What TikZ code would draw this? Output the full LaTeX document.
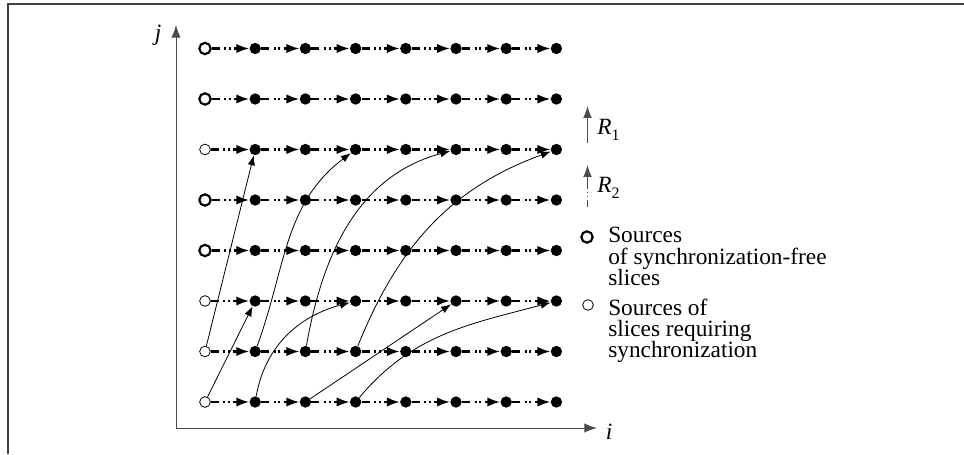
\documentclass[tikz,border=0pt]{standalone}
\usepackage{fontspec}
\setmainfont{Liberation Serif}
\usetikzlibrary{arrows.meta}
\begin{document}
\begin{tikzpicture}[x=0.75pt,y=0.75pt,
  dotnode/.style={circle,fill=black,inner sep=0pt,minimum size=8.5pt},
  srcthick/.style={circle,draw=black,fill=white,line width=1.6pt,inner sep=0pt,minimum size=8.5pt},
  srcthin/.style={circle,draw=black,fill=white,line width=0.6pt,inner sep=0pt,minimum size=8pt},
  hconn/.style={line width=1.7pt,dash pattern=on 6pt off 3.5pt on 1.5pt off 2pt on 1.5pt off 2.5pt on 30pt off 10pt,-{Latex[length=9.75pt,width=7pt]}},
  dep/.style={line width=0.6pt,-{Latex[length=7.5pt,width=5.5pt]}},
  axisline/.style={line width=0.75pt,draw=black!70,-{Latex[length=9.5pt,width=7pt]}},
  rsolid/.style={line width=0.75pt,draw=black!70,-{Latex[length=9pt,width=6.5pt]}},
  rdash/.style={line width=0.75pt,draw=black!70,dash pattern=on 5.25pt off 2.25pt on 0.75pt off 2.25pt on 0.75pt off 2.25pt on 30pt off 10pt,-{Latex[length=9pt,width=6.5pt]}},
  lbl/.style={font=\fontsize{17.5}{17.5}\selectfont,inner sep=0pt},
]
\useasboundingbox (0,0) rectangle (964,454);
% frame
\draw[line width=0.9pt,black!75] (8,0) -- (8,450) -- (964,450);
% grid nodes
\foreach \r in {0,...,7}{
  \foreach \c in {1,...,7}{
    \node[dotnode] (n-\c-\r) at ({205+50.2*\c},{52+50.5*\r}) {};
  }
}
\foreach \r in {0,1,2,5}{\node[srcthin] (n-0-\r) at (205,{52+50.5*\r}) {};}
\foreach \r in {3,4,6,7}{\node[srcthick] (n-0-\r) at (205,{52+50.5*\r}) {};}
% horizontal connectors
\foreach \r in {0,...,7}{
  \foreach \c [count=\d] in {0,...,6}{
    \draw[hconn] (n-\c-\r) -- (n-\d-\r);
  }
}
% dependences
\draw[dep] (n-0-0) -- (n-1-2);
\draw[dep] (n-0-1) -- (n-1-5);
\draw[dep] (n-1-0) to[out=80,in=195] (n-3-2);
\draw[dep] (n-1-1) to[out=70,in=217] (n-3-5);
\draw[dep] (n-2-0) -- (n-5-2);
\draw[dep] (n-2-1) to[out=80,in=195] (n-5-5);
\draw[dep] (n-3-0) to[out=50,in=195] (n-7-2);
\draw[dep] (n-3-1) to[out=68,in=200] (n-7-5);
% axes
\coordinate (O) at (176,26);
\coordinate (ytip) at (176,429);
\coordinate (xtip) at (597,26);
\draw[axisline] (O) -- (ytip);
\draw[axisline] (O) -- (xtip);
\node[lbl] (jl) at (158,419) {\textit{j}};
\node[lbl] (il) at (609,22) {\textit{i}};
% R1, R2
\coordinate (r1a) at (587.5,311);
\coordinate (r1b) at (587.5,348);
\draw[rsolid] (r1a) -- (r1b);
\node[lbl,anchor=base west] (r1l) at (597,319) {\textit{R}\raisebox{-4pt}{\fontsize{12}{12}\selectfont 1}};
\coordinate (r2a) at (587.5,247);
\coordinate (r2b) at (587.5,289);
\draw[rdash] (r2a) -- (r2b);
\node[lbl,anchor=base west] (r2l) at (597,261) {\textit{R}\raisebox{-4pt}{\fontsize{12}{12}\selectfont 2}};
% legend
\node[srcthick] (leg1) at (587,217) {};
\node[lbl,anchor=base west] (t1a) at (608,211) {Sources};
\node[lbl,anchor=base west] (t1b) at (608,190) {of synchronization-free};
\node[lbl,anchor=base west] (t1c) at (608,169) {slices};
\node[srcthin] (leg2) at (588,149) {};
\node[lbl,anchor=base west] (t2a) at (608,139) {Sources of};
\node[lbl,anchor=base west] (t2b) at (608,118) {slices requiring};
\node[lbl,anchor=base west] (t2c) at (608,97) {synchronization};
\end{tikzpicture}
\end{document}
